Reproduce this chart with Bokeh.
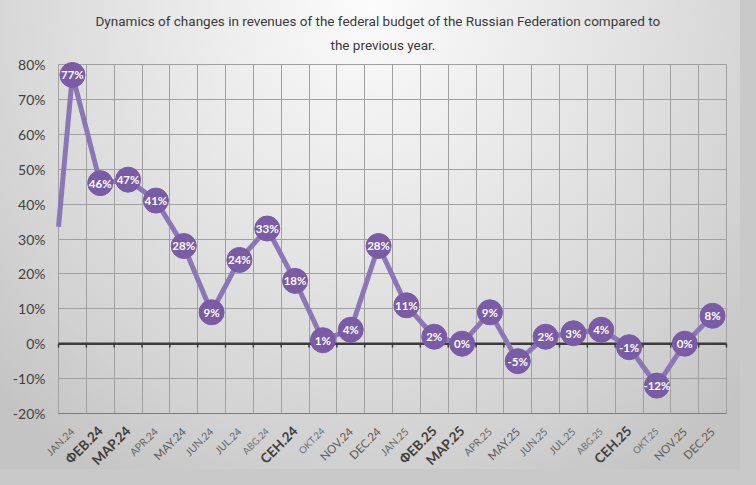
from math import pi
from bokeh.plotting import figure
from bokeh.models import (FixedTicker, PrintfTickFormatter, Title, LinearAxis,
                          GlobalInlineStyleSheet)
from bokeh.core.properties import value
from bokeh.embed import file_html
from bokeh.resources import INLINE

# ---------------- data ----------------
months = ["JAN.24", "ФЕВ.24", "МАР.24", "APR.24", "MAY.24", "JUN.24",
          "JUL.24", "ABG.24", "СЕН.24", "OKT.24", "NOV.24", "DEC.24",
          "JAN.25", "ФЕВ.25", "МАР.25", "APR.25", "MAY.25", "JUN.25",
          "JUL.25", "ABG.25", "СЕН.25", "OKT.25", "NOV.25", "DEC.25"]
changes = [77, 46, 47, 41, 28, 9, 24, 33, 18, 1, 4, 28,
           11, 2, 0, 9, -5, 2, 3, 4, -1, -12, 0, 8]
prev_change = -10          # month before JAN.24 (only its segment enters the chart box)
y_ticks = [-20, -10, 0, 10, 20, 30, 40, 50, 60, 70, 80]
title_line1 = "Dynamics of changes in revenues of the federal budget of the Russian Federation compared to"
title_line2 = "the previous year."

# ---------------- styles / layout ----------------
W, H = 740, 469
BOX_L, BOX_R, BOX_T, BOX_B = 58, 726, 64, 413     # screen px of the chart box
TOP = 56                                         # title band
LINE_C = "#8b76b6"
DOT_C = "#7a5ba6"
GRID_C = "#a0a0a0"
label_groups = {   # (font size, bold, colour, standoff) -> month prefixes
    ("13.5px", True, "#3f3f3f", 15): ("ФЕВ", "МАР", "СЕН"),
    ("11.5px", False, "#5a5a5a", 16): ("MAY", "NOV", "DEC"),
    ("10.5px", False, "#666666", 16): ("JAN", "JUN", "JUL", "APR"),
    ("9.5px", False, "#6e6e6e", 16): ("ABG", "OKT"),
}

n = len(months)
xs = list(range(n))
y_lo, y_hi = y_ticks[0], y_ticks[-1]
x_lo, x_hi = -0.5, n - 0.5
upx = (BOX_B - BOX_T) / (y_hi - y_lo)
xpx = (BOX_R - BOX_L) / (x_hi - x_lo)

p = figure(width=W, height=H,
           x_range=(x_lo - BOX_L / xpx, x_hi + (W - BOX_R) / xpx),
           y_range=(y_lo - (H - BOX_B) / upx, y_hi + (BOX_T - TOP) / upx),
           output_backend="svg", toolbar_location=None,
           min_border_left=0, min_border_right=0,
           min_border_top=TOP, min_border_bottom=0,
           background_fill_color=None, border_fill_color=None,
           outline_line_color=None)
p.styles = {"background": "radial-gradient(ellipse 70% 120% at 50% 0%, #fcfcfc 0%, "
                          "#e5e5e5 45%, #d2d2d2 80%, #c4c4c4 100%)"}
p.stylesheets = [GlobalInlineStyleSheet(css="body { background: #c9c9c9; }")]

# title: two centred lines (first added sits nearest the chart)
p.add_layout(Title(text=title_line2, align="left", offset=330, standoff=7,
                   text_font="Roboto", text_font_size="13.5px", text_font_style="normal",
                   text_color="#3a3a3a"), "above")
p.add_layout(Title(text=title_line1, align="left", offset=95, standoff=6,
                   text_font="Roboto", text_font_size="13.5px", text_font_style="normal",
                   text_color="#3a3a3a"), "above")

bounds = [i - 0.5 for i in range(n + 1)]

# grids limited to the chart box
p.xgrid.ticker = FixedTicker(ticks=bounds)
p.ygrid.ticker = FixedTicker(ticks=y_ticks)
for g in (p.xgrid[0], p.ygrid[0]):
    g.grid_line_color = GRID_C
if "cross_bounds" in p.xgrid[0].properties():
    p.xgrid[0].cross_bounds = (y_lo, y_hi)
    p.ygrid[0].cross_bounds = (x_lo, x_hi)
    p.xgrid[0].bounds = (x_lo, x_hi)
    p.ygrid[0].bounds = (y_lo, y_hi)
else:
    p.xgrid.visible = False
    p.ygrid.visible = False
    p.segment(x0=bounds, y0=[y_lo] * len(bounds), x1=bounds, y1=[y_hi] * len(bounds),
              line_color=GRID_C, line_width=1)
    p.segment(x0=[x_lo] * len(y_ticks), y0=y_ticks, x1=[x_hi] * len(y_ticks), y1=y_ticks,
              line_color=GRID_C, line_width=1)

# y axis at the left edge of the chart box
ya = p.yaxis[0]
ya.fixed_location = x_lo
ya.bounds = (y_lo, y_hi)
ya.ticker = FixedTicker(ticks=y_ticks)
ya.formatter = PrintfTickFormatter(format="%d%%")
ya.axis_line_color = None
ya.major_tick_line_color = None
ya.minor_tick_line_color = None
ya.major_tick_out = 0
ya.major_tick_in = 0
ya.major_label_standoff = 13
ya.major_label_text_font = "Lato"
ya.major_label_text_font_size = "14px"
ya.major_label_text_color = "#404040"

p.xaxis.visible = False

# zero line across the chart box, with small tick marks at the category boundaries
p.segment(x0=[x_lo], y0=[0], x1=[x_hi], y1=[0], line_color="#3c3c3c", line_width=2.5)
p.segment(x0=bounds, y0=[0] * len(bounds), x1=bounds, y1=[-1.1] * len(bounds),
          line_color="#3c3c3c", line_width=1.5)

# month labels: one axis per label style, all along the bottom of the chart box
pre = [m.split(".")[0] for m in months]
first = True
for (size, bold, color, standoff), prefixes in label_groups.items():
    idx = [i for i in xs if pre[i] in prefixes]
    ax = LinearAxis(fixed_location=y_lo, bounds=(x_lo, x_hi), ticker=FixedTicker(ticks=idx),
                    major_label_overrides={i: months[i] for i in idx},
                    major_label_orientation=pi / 4,
                    axis_line_color="#7c7c7c" if first else None, axis_line_width=1.2,
                    major_tick_line_color=None, minor_tick_line_color=None,
                    major_tick_out=0, major_tick_in=0,
                    major_label_standoff=standoff,
                    major_label_text_font="Lato", major_label_text_font_size=size,
                    major_label_text_font_style="bold" if bold else "normal",
                    major_label_text_color=color)
    p.add_layout(ax, "below")
    first = False

# series: the segment from the previous month is cut at the chart box edge
t = (x_lo - (-1)) / (0 - (-1))
edge_y = prev_change + (changes[0] - prev_change) * t
p.line([x_lo] + xs, [edge_y] + changes, line_color=LINE_C, line_width=5)
p.scatter(xs, changes, size=25, marker="circle", fill_color=DOT_C, line_color=DOT_C)
p.text(xs, changes, text=[f"{v}%" for v in changes], text_align="center",
       text_baseline="middle", text_color="white", text_font=value("Lato"),
       text_font_style="bold", text_font_size="11.5px")

open("out.html", "w").write(file_html(p, INLINE))
